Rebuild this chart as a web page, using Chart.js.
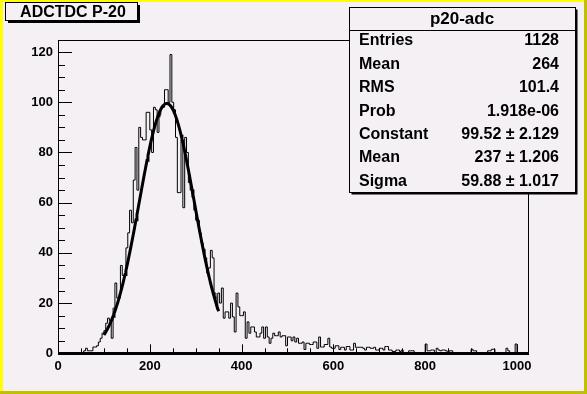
<!DOCTYPE html>
<html>
<head>
<meta charset="utf-8">
<script src="https://cdn.jsdelivr.net/npm/chart.js@4"></script>
<style>
  html, body { margin: 0; padding: 0; background: #f4f0f4; }
  #wrap { width: 587px; height: 394px; }
</style>
</head>
<body>
<div id="wrap"><canvas id="c" width="587" height="394"></canvas></div>
<script>
// histogram p20-adc, 256 bins of width 4 from 0 to 1024
const binLow = 0;
const binWidth = 4;
const counts = [
  0, 0, 0, 0, 0, 0, 0, 0, 0, 0, 0, 0, 0, 0, 0, 1,
  2, 1, 1, 1, 2.5, 2.5, 3, 4.5, 6, 8, 9, 12, 14, 13, 6, 18,
  28, 22, 22, 35, 31, 31, 42, 48, 57, 52, 69, 82, 65, 90, 86, 85,
  85, 96, 96, 89, 80, 98, 97, 88, 95, 98, 98, 105, 105, 100, 119, 100,
  97, 86, 64, 64, 85, 58, 86, 80, 68, 65, 62, 57, 53, 53, 48, 44,
  41, 38, 32, 34, 41, 38, 24, 19, 24, 20, 26, 14, 16.5, 16.5, 14, 20,
  14.5, 8.5, 24, 18.5, 15, 15, 16.5, 6, 12.5, 8, 10.5, 10.5, 8.5, 6.5, 6.5, 8,
  10.5, 6, 10.5, 6.5, 4, 6, 8, 7, 7, 8.5, 6.5, 7, 7, 3, 6.5, 6.5,
  5, 6.5, 4.5, 6, 4, 4, 4.5, 1.5, 4, 4, 3.5, 3.5, 4.5, 4.5, 2, 6.5,
  2.5, 2.5, 3.5, 3.5, 6, 2.5, 2, 2, 3, 3, 1.5, 2.4, 2.4, 1.3, 2.7, 2.7,
  1.3, 1.3, 4, 2.4, 2.4, 2.4, 2.4, 2, 1.3, 2.4, 2.4, 2, 2, 2.4, 1.3, 1.3,
  2, 2, 1.3, 2.7, 2.7, 1.3, 1.3, 0.7, 0.7, 1.3, 1.3, 0.7, 1.3, 0, 0, 0,
  1, 1, 1, 0, 0, 0, 0, 0, 0, 3.7, 1, 1, 1.3, 1.3, 0, 2,
  1.3, 1, 1.3, 1.3, 1, 0, 1, 1, 0, 0, 0, 0, 0, 0, 0, 0,
  0, 0, 1.6, 1, 1, 0, 0, 0, 0, 0, 0, 1, 1, 1.6, 1.6, 0,
  0, 0, 0, 0, 0, 2, 1, 0, 0, 0, 3.7, 0, 0, 0, 0, 0
];

// gaussian fit shown in the stats box
const fitConstant = 99.52;
const fitMean = 237;
const fitSigma = 59.88;
const fitRange = [100, 350];

const xTickLabels = [0, 200, 400, 600, 800, 1000];
const yTickLabels = [0, 20, 40, 60, 80, 100, 120];

const histTitle = 'ADCTDC P-20';
const statsTitle = 'p20-adc';
const statLabels = ['Entries', 'Mean', 'RMS', 'Prob', 'Constant', 'Mean', 'Sigma'];
const statValues = ['1128', '264', '101.4', '1.918e-06', '99.52 \u00b1 2.129', '237 \u00b1 1.206', '59.88 \u00b1 1.017'];

const BG = '#f4f0f4';
const FONT = '"Liberation Sans", Arial, Helvetica, sans-serif';

// step outline points
const histPoints = counts.map((c, i) => ({ x: binLow + i * binWidth, y: c }));
histPoints.push({ x: binLow + counts.length * binWidth, y: counts[counts.length - 1] });

const fitPoints = [];
for (let x = fitRange[0]; x <= fitRange[1]; x += 2) {
  const z = (x - fitMean) / fitSigma;
  fitPoints.push({ x: x, y: fitConstant * Math.exp(-0.5 * z * z) });
}

const rootPlugin = {
  id: 'rootStyle',
  beforeDraw(chart) {
    const ctx = chart.ctx;
    ctx.save();
    ctx.fillStyle = BG;
    ctx.fillRect(0, 0, 587, 394);
    // bevelled canvas border
    ctx.fillStyle = '#ffff00';
    ctx.fillRect(0, 0, 587, 2);
    ctx.fillRect(0, 0, 3, 394);
    ctx.fillStyle = '#c0c000';
    ctx.fillRect(584, 0, 3, 394);
    ctx.fillRect(0, 391, 587, 3);
    ctx.restore();
  },
  afterDraw(chart) {
    const ctx = chart.ctx;
    const a = chart.chartArea;
    const xs = chart.scales.x, ys = chart.scales.y;
    ctx.save();
    ctx.strokeStyle = '#000';
    ctx.lineWidth = 1;
    ctx.strokeRect(Math.round(a.left) + 0.5, Math.round(a.top) + 0.5,
      Math.round(a.right - a.left), Math.round(a.bottom - a.top));
    // axis lines
    ctx.lineWidth = 2;
    ctx.beginPath();
    ctx.moveTo(a.left, Math.round(a.bottom));
    ctx.lineTo(a.right + 1, Math.round(a.bottom));
    ctx.stroke();
    // x ticks
    ctx.lineWidth = 1;
    ctx.beginPath();
    for (let v = 0; v <= 1024; v += 50) {
      const px = Math.round(xs.getPixelForValue(v)) + 0.5;
      const len = v % 200 === 0 ? 9 : 5;
      ctx.moveTo(px, a.bottom);
      ctx.lineTo(px, a.bottom - len);
    }
    // y ticks
    for (let v = 0; v <= 125; v += 5) {
      const py = Math.round(ys.getPixelForValue(v)) + 0.5;
      const len = v % 20 === 0 ? 14 : 7;
      ctx.moveTo(a.left, py);
      ctx.lineTo(a.left + len, py);
    }
    ctx.stroke();

    // title box
    ctx.fillStyle = '#000';
    ctx.fillRect(8, 5, 132, 18);
    ctx.fillStyle = BG;
    ctx.fillRect(5.5, 2.5, 132, 18);
    ctx.strokeRect(5.5, 2.5, 132, 18);
    ctx.fillStyle = '#000';
    ctx.font = 'bold 16px ' + FONT;
    ctx.textAlign = 'center';
    ctx.textBaseline = 'middle';
    ctx.fillText(histTitle, 73, 12.5);

    // stats box
    const bx = 349.5, by = 7.5, bw = 226, bh = 185;
    ctx.fillRect(bx + 2, by + 2, bw, bh);
    ctx.fillStyle = BG;
    ctx.fillRect(bx, by, bw, bh);
    ctx.strokeRect(bx, by, bw, bh);
    ctx.beginPath();
    ctx.moveTo(bx, 30.5);
    ctx.lineTo(bx + bw, 30.5);
    ctx.stroke();
    ctx.fillStyle = '#000';
    ctx.font = 'bold 17px ' + FONT;
    ctx.fillText(statsTitle, 462, 19.5);
    ctx.font = 'bold 16px ' + FONT;
    statLabels.forEach((lab, i) => {
      const y = 41 + i * 23.4;
      ctx.textAlign = 'left';
      ctx.fillText(lab, 359, y);
      ctx.textAlign = 'right';
      ctx.fillText(statValues[i], 559, y);
    });
    ctx.restore();
  }
};

new Chart(document.getElementById('c'), {
  type: 'line',
  data: {
    datasets: [{
      data: histPoints,
      borderColor: '#000',
      borderWidth: 1,
      stepped: 'after',
      pointRadius: 0,
      fill: false
    }, {
      data: fitPoints,
      borderColor: '#000',
      borderWidth: 3,
      pointRadius: 0,
      tension: 0,
      fill: false
    }]
  },
  options: {
    responsive: false,
    animation: false,
    devicePixelRatio: 1,
    layout: { padding: { top: 39.5, right: 59, left: 0, bottom: 0 } },
    plugins: { legend: { display: false }, tooltip: { enabled: false } },
    scales: {
      x: {
        type: 'linear',
        min: 0,
        max: 1024,
        afterFit: s => { s.height = 40.7; },
        afterBuildTicks: s => { s.ticks = xTickLabels.map(v => ({ value: v })); },
        grid: { display: false, drawTicks: false },
        border: { display: false },
        ticks: {
          color: '#000', padding: 5, maxRotation: 0,
          callback: v => String(v),
          font: { family: FONT, size: 13, weight: 'bold' }
        }
      },
      y: {
        type: 'linear',
        min: 0,
        max: 125,
        afterFit: s => { s.width = 58; },
        afterBuildTicks: s => { s.ticks = yTickLabels.map(v => ({ value: v })); },
        grid: { display: false, drawTicks: false },
        border: { display: false },
        ticks: {
          color: '#000', padding: 5,
          callback: v => String(v),
          font: { family: FONT, size: 13, weight: 'bold' }
        }
      }
    }
  },
  plugins: [rootPlugin]
});
</script>
</body>
</html>
